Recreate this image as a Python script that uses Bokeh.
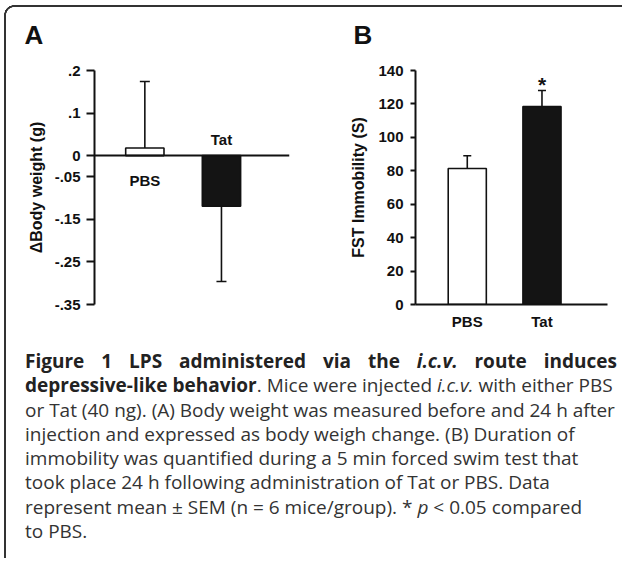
from bokeh.plotting import figure
from bokeh.models import Range1d, FixedTicker, Span, Div
from bokeh.layouts import row, column
from bokeh.embed import file_html
from bokeh.resources import INLINE
from bokeh.core.properties import value

# ---------------- data ----------------
categories = ["PBS", "Tat"]
body_weight_change = [0.018, -0.119]      # panel A, mean (g)
body_weight_sem = [0.156, 0.177]          # panel A, SEM
fst_immobility = [81.4, 118.4]            # panel B, mean (s)
fst_sem = [7.6, 9.6]                      # panel B, SEM
significance = ["", "*"]
bar_colors = ["white", "#141414"]
a_ticks = [0.2, 0.1, 0, -0.05, -0.15, -0.25, -0.35]
a_tick_labels = [".2", ".1", "0", "-.05", "-.15", "-.25", "-.35"]
b_ticks = [0, 20, 40, 60, 80, 100, 120, 140]

INK = "#111111"
FONT = "Liberation Sans"

xs = [i + 0.5 for i in range(len(categories))]


def style_axis(ax, tick_out, standoff, label_standoff=12):
    ax.axis_line_color = INK
    ax.axis_line_width = 2
    ax.major_tick_line_color = INK
    ax.major_tick_line_width = 2
    ax.major_tick_out = tick_out
    ax.major_tick_in = 0
    ax.minor_tick_out = 0
    ax.minor_tick_in = 0
    ax.major_label_text_font = FONT
    ax.major_label_text_font_style = "bold"
    ax.major_label_text_font_size = "15px"
    ax.major_label_text_color = INK
    ax.major_label_standoff = standoff
    ax.axis_label_text_font = FONT
    ax.axis_label_text_font_style = "bold"
    ax.axis_label_text_font_size = "16px"
    ax.axis_label_text_color = INK
    ax.axis_label_standoff = label_standoff


def style_fig(p, offset):
    p.grid.visible = False
    p.outline_line_color = None
    p.background_fill_color = None
    p.border_fill_color = None
    p.title.text_font = FONT
    p.title.text_font_size = "26px"
    p.title.text_font_style = "bold"
    p.title.text_color = INK
    p.title.align = "left"
    p.title.vertical_align = "top"
    p.title.offset = offset
    p.title.standoff = 38


# ---------------- panel A ----------------
pA = figure(width=292, height=342, title="A",
            x_range=Range1d(-0.157, 2.388), y_range=Range1d(-0.35, 0.2),
            output_backend="svg", toolbar_location=None,
            min_border_left=94, min_border_right=3,
            min_border_top=70, min_border_bottom=38)
style_fig(pA, -70)
pA.xaxis.visible = False
style_axis(pA.yaxis[0], 8, 6, 7)
pA.yaxis.ticker = FixedTicker(ticks=a_ticks)
pA.yaxis.major_label_overrides = dict(zip(a_ticks, a_tick_labels))
pA.yaxis.axis_label = "ΔBody weight (g)"

a_ends = [m + (s if m >= 0 else -s) for m, s in zip(body_weight_change, body_weight_sem)]
pA.segment(x0=xs, y0=body_weight_change, x1=xs, y1=a_ends, line_color=INK, line_width=1.6)
pA.scatter(x=xs, y=a_ends, marker="dash", size=10, line_color=INK, line_width=1.6)
pA.vbar(x=xs, top=body_weight_change, bottom=0, width=0.5,
        fill_color=bar_colors, line_color=INK, line_width=1.6)
pA.add_layout(Span(location=0, dimension="width", line_color=INK, line_width=2))
a_label_offsets = [25 if m >= 0 else -16 for m in body_weight_change]
pA.text(x=xs, y=[0] * len(xs), text=categories, y_offset=a_label_offsets,
        text_align="center", text_baseline="alphabetic",
        text_font=value(FONT), text_font_style="bold", text_font_size="15px",
        text_color=INK)

# ---------------- panel B ----------------
pB = figure(width=322, height=342, title="B",
            x_range=Range1d(-0.193, 2.377), y_range=Range1d(0, 140),
            output_backend="svg", toolbar_location=None,
            min_border_left=123, min_border_right=7,
            min_border_top=70, min_border_bottom=38)
style_fig(pB, -62)
style_axis(pB.yaxis[0], 5, 7, 8)
pB.yaxis.ticker = FixedTicker(ticks=b_ticks)
pB.yaxis.axis_label = "FST Immobility (S)"
style_axis(pB.xaxis[0], 0, 8)
pB.xaxis.ticker = FixedTicker(ticks=xs)
pB.xaxis.major_label_overrides = dict(zip(xs, categories))

b_ends = [m + s for m, s in zip(fst_immobility, fst_sem)]
pB.segment(x0=xs, y0=fst_immobility, x1=xs, y1=b_ends, line_color=INK, line_width=1.6)
pB.scatter(x=xs, y=b_ends, marker="dash", size=8, line_color=INK, line_width=1.6)
pB.vbar(x=xs, top=fst_immobility, bottom=0, width=0.51,
        fill_color=bar_colors, line_color=INK, line_width=1.6)
pB.text(x=xs, y=b_ends, text=significance, y_offset=-6,
        text_align="center", text_baseline="alphabetic",
        text_font=value(FONT), text_font_style="bold", text_font_size="21px",
        text_color=INK)

# ---------------- caption ----------------
caption_html = """
<div style="font-family:'Open Sans'; font-size:19px; line-height:24.3px; color:#333333;
            padding:2px 0 0 20px; width:612px;">
<div style="text-align:justify; text-align-last:justify; color:#222222;"><b>Figure 1 LPS administered via the <i>i.c.v.</i> route induces</b></div>
<div style="white-space:nowrap;">
<b style="color:#222222;">depressive-like behavior</b>. Mice were injected <i>i.c.v.</i> with either PBS<br>
or Tat (40 ng). (A) Body weight was measured before and 24 h after<br>
injection and expressed as body weigh change. (B) Duration of<br>
immobility was quantified during a 5 min forced swim test that<br>
took place 24 h following administration of Tat or PBS. Data<br>
represent mean &plusmn; SEM (n = 6 mice/group). * <i>p</i> &lt; 0.05 compared<br>
to PBS.
</div>
</div>
"""
cap = Div(text=caption_html, width=614, height=206)

frame_bg = ("radial-gradient(circle at 10px 10px, transparent 7.6px, #333333 8px, "
            "#333333 9.6px, transparent 10px) 4px 5px / 10px 10px no-repeat, "
            "linear-gradient(#333333, #333333) 14px 5px / 100% 2px no-repeat, "
            "linear-gradient(#333333, #333333) 4px 15px / 2px 100% no-repeat, "
            "white")

panel = column(row(pA, pB), cap, styles={"background": frame_bg})
layout = column(panel)

open("out.html", "w").write(file_html(layout, INLINE))
